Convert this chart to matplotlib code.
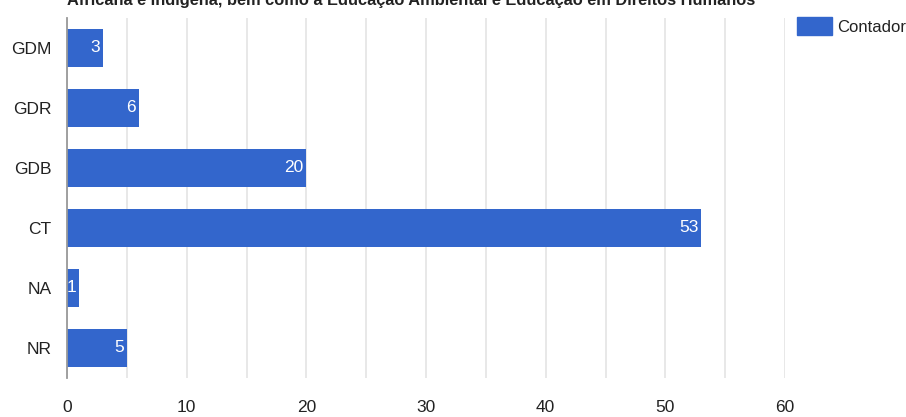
import matplotlib.pyplot as plt
from matplotlib.patches import Patch

categories = ['GDM', 'GDR', 'GDB', 'CT', 'NA', 'NR']
contador = [3, 6, 20, 53, 1, 5]
xticks = [0, 10, 20, 30, 40, 50, 60]
title = ('Africana e Indígena, bem como a Educação Ambiental '
         'e Educação em Direitos Humanos')

plt.rcParams['font.family'] = ['Liberation Sans', 'DejaVu Sans']

blue = '#3366cc'
ink = '#222222'
fs = 12.5

fig = plt.figure(figsize=(9.06, 4.17), dpi=100)
ax = fig.add_axes([67 / 906, 1 - 378 / 417, (785 - 67) / 906, 360 / 417])

y = list(range(len(categories)))
ax.barh(y, contador, height=0.63, color=blue, zorder=3)
for yi, v in zip(y, contador):
    ax.text(v - 0.25, yi, str(v), color='white', ha='right', va='center',
            fontsize=fs, zorder=4)

ax.set_ylim(len(categories) - 0.5, -0.5)
ax.set_xlim(0, 60)
ax.set_yticks(y)
ax.set_yticklabels(categories, fontsize=fs, color=ink)
ax.set_xticks(xticks)
ax.set_xticklabels([str(t) for t in xticks], fontsize=fs, color=ink)
ax.set_xticks(range(5, 60, 10), minor=True)
ax.tick_params(axis='y', length=0, pad=11)
ax.tick_params(axis='x', length=0, pad=16)
ax.tick_params(axis='x', which='minor', length=0)
ax.grid(axis='x', which='both', color='#e4e4e4', linewidth=1.2, zorder=0)
for s in ['top', 'right', 'bottom']:
    ax.spines[s].set_visible(False)
ax.spines['left'].set_color('#999999')
ax.spines['left'].set_linewidth(1.3)
ax.spines['left'].set_zorder(5)

fig.text(67 / 906, 1 - 5 / 417, title, ha='left', va='baseline',
         fontsize=11.8, fontweight='bold', color=ink)

fig.legend(handles=[Patch(color=blue, label='Contador')],
           loc='upper left', bbox_to_anchor=(797 / 906, 1 - 17 / 417),
           frameon=False, fontsize=12, handlelength=2.1, handleheight=1.3,
           handletextpad=0.3, borderpad=0, borderaxespad=0,
           labelcolor=ink)

fig.savefig('out.png', dpi=100)
